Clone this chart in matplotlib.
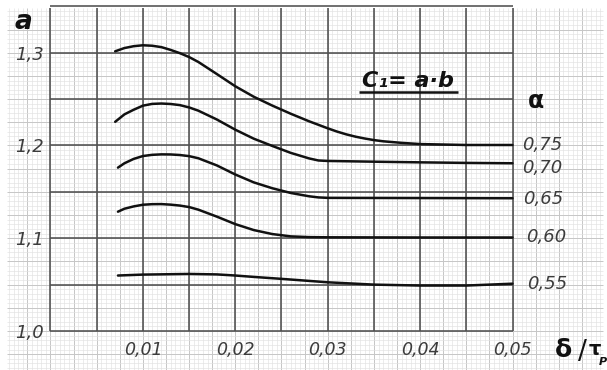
import numpy as np
import matplotlib
matplotlib.use("Agg")
import matplotlib.pyplot as plt

# ---- data -------------------------------------------------------------
x_ticks = [0.01, 0.02, 0.03, 0.04, 0.05]
x_tick_labels = ["0,01", "0,02", "0,03", "0,04", "0,05"]
y_ticks = [1.0, 1.1, 1.2, 1.3]
y_tick_labels = ["1,0", "1,1", "1,2", "1,3"]

alpha_labels = ["0,75", "0,70", "0,65", "0,60", "0,55"]

x_075 = [0.007, 0.008, 0.009, 0.010, 0.011, 0.012, 0.013, 0.014, 0.015, 0.016,
         0.018, 0.020, 0.022, 0.024, 0.026, 0.028, 0.030, 0.031, 0.032, 0.033,
         0.034, 0.035, 0.036, 0.038, 0.040, 0.045, 0.050]
a_075 = [1.3015, 1.3050, 1.3070, 1.3080, 1.3075, 1.3060, 1.3030, 1.2995, 1.2953,
         1.2900, 1.2770, 1.2638, 1.2525, 1.2430, 1.2342, 1.2260, 1.2185, 1.2150,
         1.2120, 1.2095, 1.2075, 1.2058, 1.2045, 1.2028, 1.2015, 1.2005, 1.2005]

x_070 = [0.007, 0.008, 0.009, 0.010, 0.011, 0.012, 0.013, 0.014, 0.015, 0.016,
         0.018, 0.020, 0.022, 0.024, 0.026, 0.028, 0.029, 0.030, 0.035, 0.040,
         0.045, 0.050]
a_070 = [1.2255, 1.2335, 1.2385, 1.2429, 1.2448, 1.2452, 1.2447, 1.2435, 1.2410,
         1.2375, 1.2280, 1.2170, 1.2073, 1.1995, 1.1920, 1.1860, 1.1838, 1.1833,
         1.1825, 1.1818, 1.1812, 1.1808]

x_065 = [0.0073, 0.008, 0.009, 0.010, 0.011, 0.012, 0.013, 0.014, 0.015, 0.016,
         0.018, 0.020, 0.022, 0.024, 0.026, 0.028, 0.029, 0.030, 0.040, 0.050]
a_065 = [1.1761, 1.1808, 1.1855, 1.1886, 1.1899, 1.1904, 1.1903, 1.1897, 1.1885,
         1.1862, 1.1785, 1.1687, 1.1602, 1.1539, 1.1488, 1.1452, 1.1440, 1.1435,
         1.1433, 1.1431]

x_060 = [0.0073, 0.008, 0.009, 0.010, 0.011, 0.012, 0.013, 0.014, 0.015, 0.016,
         0.018, 0.020, 0.022, 0.024, 0.026, 0.028, 0.030, 0.040, 0.050]
a_060 = [1.1286, 1.1318, 1.1343, 1.1361, 1.1367, 1.1368, 1.1362, 1.1352, 1.1336,
         1.1308, 1.1233, 1.1152, 1.1088, 1.1045, 1.1020, 1.1012, 1.1010, 1.1008,
         1.1008]

x_055 = [0.0073, 0.010, 0.015, 0.018, 0.020, 0.022, 0.025, 0.028, 0.030, 0.035,
         0.040, 0.045, 0.050]
a_055 = [1.0598, 1.0608, 1.0615, 1.0610, 1.0598, 1.0583, 1.0562, 1.0540, 1.0525,
         1.0500, 1.0490, 1.0490, 1.0510]

curves = [(x_075, a_075), (x_070, a_070), (x_065, a_065), (x_060, a_060), (x_055, a_055)]

# ---- figure -------------------------------------------------------------
fig = plt.figure(figsize=(6.07, 3.70), dpi=100)
fig.patch.set_facecolor("white")
ax = fig.add_axes([0, 0, 1, 1])
ax.set_xlim(-0.005465, 0.060227)
ax.set_ylim(0.95796, 1.3568)
ax.axis("off")

# millimetre paper
px_l, px_r, py_b, py_t = -0.0047, 0.0598, 0.955, 1.3485
fine_x = np.arange(-0.0045, 0.0598, 0.0005)
fine_y = np.arange(0.955, 1.3486, 0.005)
fine_col, med_col = "#e2e2e2", "#c6c6c6"
for xv in fine_x:
    med = int(round(xv / 0.0005)) % 5 == 0
    ax.vlines(xv, py_b, py_t, color=med_col if med else fine_col,
              lw=0.7 if med else 0.45, zorder=1)
for yv in fine_y:
    med = int(round((yv - 1.0) / 0.005)) % 5 == 0
    ax.hlines(yv, px_l, px_r, color=med_col if med else fine_col,
              lw=0.7 if med else 0.45, zorder=1)

# printed chart grid
heavy = "#505050"
for xv in np.arange(0.0, 0.0501, 0.005):
    ax.vlines(xv, 1.0, 1.3485, color=heavy, lw=1.15, zorder=2)
for yv in np.arange(1.0, 1.3501, 0.05):
    ax.hlines(yv, 0.0, 0.05, color=heavy, lw=1.15, zorder=2)

# curves
for xs, ys in curves:
    ax.plot(xs, ys, color="#111111", lw=1.8, solid_capstyle="round",
            solid_joinstyle="round", zorder=4)

# tick labels
lab_col = "#3c3c3c"
for xv, t in zip(x_ticks, x_tick_labels):
    ax.text(xv, 0.9741, t, ha="center", va="baseline", fontsize=12.5,
            style="italic", color=lab_col, zorder=5)
for yv, t in zip(y_ticks, y_tick_labels):
    ax.text(-0.0007, yv - 0.0075, t, ha="right", va="baseline", fontsize=13,
            style="italic", color=lab_col, zorder=5)

# curve labels (alpha)
alpha_pos = [(0.05103, 1.1951), (0.05103, 1.1703), (0.05114, 1.1369),
             (0.05146, 1.0963), (0.05157, 1.0453)]
for (xv, yv), t in zip(alpha_pos, alpha_labels):
    ax.text(xv, yv, t, ha="left", va="baseline", fontsize=13,
            style="italic", color=lab_col, zorder=5)

ax.text(0.05254, 1.2479, "α", ha="center", va="center", fontsize=17,
        fontweight="bold", color="#111111", zorder=5)
ax.text(-0.00298, 1.3331, "a", ha="center", va="center", fontsize=19,
        fontweight="bold", style="italic", color="#111111", zorder=5)

# formula with underline
ax.text(0.03371, 1.2630, "C₁= a·b", ha="left", va="baseline", fontsize=16,
        fontweight="bold", style="italic", color="#111111", zorder=5)
ax.hlines(1.2576, 0.03339, 0.04411, color="#111111", lw=1.8, zorder=5)

# x-axis quantity  δ / τ_P
ax.text(0.05455, 0.9720, "δ", ha="left", va="baseline", fontsize=18,
        fontweight="bold", color="#111111", zorder=5)
ax.text(0.05705, 0.9700, "/", ha="left", va="baseline", fontsize=19,
        color="#111111", zorder=5)
ax.text(0.05820, 0.9740, "τ", ha="left", va="baseline", fontsize=14,
        fontweight="bold", color="#111111", zorder=5)
ax.text(0.05930, 0.9630, "P", ha="left", va="baseline", fontsize=8,
        fontweight="bold", style="italic", color="#111111", zorder=5)

fig.savefig("out.png", dpi=100)
